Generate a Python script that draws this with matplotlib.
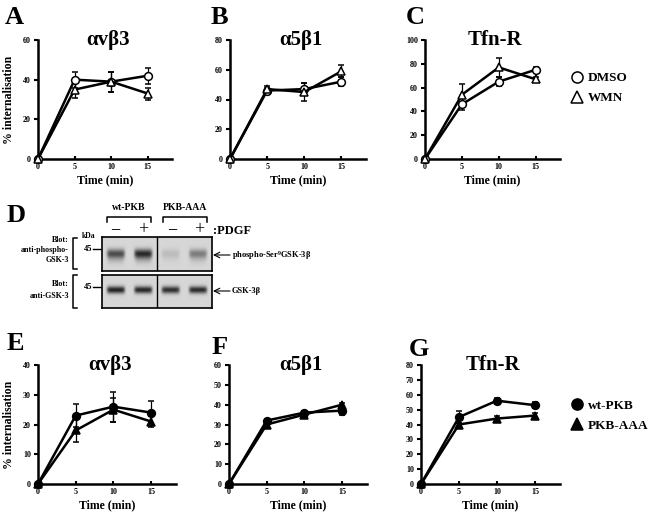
import matplotlib
matplotlib.use('Agg')
import matplotlib.pyplot as plt
from matplotlib.lines import Line2D
import numpy as np

plt.rcParams['font.family'] = ['Liberation Serif', 'DejaVu Serif']
plt.rcParams['font.weight'] = 'bold'
plt.rcParams['mathtext.default'] = 'regular'

# ------------------------------- data -------------------------------- #

times = [0, 5, 10, 15]

# A-C : DMSO / wortmannin
avb3_dmso = [0, 40, 39, 42]
avb3_dmso_err = [0, 4, 5, 4]
avb3_wmn = [0, 35, 39, 33]
avb3_wmn_err = [0, 4, 5, 3]

a5b1_dmso = [0, 46, 47, 52]
a5b1_dmso_err = [0, 2, 4, 3]
a5b1_wmn = [0, 47, 45, 59]
a5b1_wmn_err = [0, 2, 6, 4]

tfnr_dmso = [0, 46, 65, 75]
tfnr_dmso_err = [0, 5, 4, 2]
tfnr_wmn = [0, 54, 77, 67]
tfnr_wmn_err = [0, 9, 8, 2]

# E-G : wt-PKB / PKB-AAA
avb3_wt = [0, 23, 26, 24]
avb3_wt_err = [0, 4, 5, 4]
avb3_aaa = [0, 18, 25, 21]
avb3_aaa_err = [0, 4, 4, 2]

a5b1_wt = [0, 32, 36, 37]
a5b1_wt_err = [0, 1, 1, 2]
a5b1_aaa = [0, 30, 35, 40]
a5b1_aaa_err = [0, 1, 1, 1]

tfnr_wt = [0, 45, 56, 53]
tfnr_wt_err = [0, 4, 2, 2]
tfnr_aaa = [0, 40, 44, 46]
tfnr_aaa_err = [0, 1, 2, 2]

# D : blot band intensities (lanes: wt -, wt +, AAA -, AAA +)
lanes = ['-', '+', '-', '+']
phospho_band = [0.62, 0.78, 0.12, 0.40]
total_band = [0.88, 0.86, 0.82, 0.84]

# ------------------------------ figure ------------------------------- #

W, H = 650, 520
fig = plt.figure(figsize=(6.5, 5.2), dpi=100)


def px(x, y):
    return x / W, 1 - y / H


def rect(x0, y0, x1, y1):
    return [x0 / W, 1 - y1 / H, (x1 - x0) / W, (y1 - y0) / H]


def panel(box, ymax, ystep, title, s1, e1, s2, e2, m1, m2, ylabel=False):
    ax = fig.add_axes(rect(*box))
    for s, e, m in ((s1, e1, m1), (s2, e2, m2)):
        fill = 'white' if m[1] == 'open' else 'black'
        ax.errorbar(times, s, yerr=e, color='black', lw=1.8, elinewidth=0.9,
                    capsize=2.5, capthick=0.9, marker=m[0], ms=5.6,
                    mfc=fill, mec='black', mew=1.1, clip_on=False, zorder=3)
    ax.set_xlim(0, 18.3)
    ax.set_ylim(0, ymax)
    ax.set_xticks(times)
    ax.set_yticks(np.arange(0, ymax + 1, ystep))
    for sp in ('top', 'right'):
        ax.spines[sp].set_visible(False)
    for sp in ('left', 'bottom'):
        ax.spines[sp].set_linewidth(1.8)
    ax.tick_params(axis='x', direction='in', length=2.5, width=1.5,
                   labelsize=5.8, pad=3)
    ax.tick_params(axis='y', direction='out', length=3, width=1.5,
                   labelsize=5.8, pad=2)
    ax.set_xlabel('Time (min)', fontsize=8.5, fontweight='bold', labelpad=2)
    if ylabel:
        ax.set_ylabel('% internalisation', fontsize=8.5, fontweight='bold',
                      labelpad=6)
    ax.text(0.52, 1.0, title, transform=ax.transAxes, ha='center',
            va='center', fontsize=15, fontweight='bold')
    return ax


axA = panel((38, 40, 172, 159), 60, 20, 'αvβ3', avb3_dmso, avb3_dmso_err,
            avb3_wmn, avb3_wmn_err, ('o', 'open'), ('^', 'open'), ylabel=True)
axB = panel((230, 40, 366, 159), 80, 20, 'α5β1', a5b1_dmso, a5b1_dmso_err,
            a5b1_wmn, a5b1_wmn_err, ('o', 'open'), ('^', 'open'))
axC = panel((425, 40, 560, 159), 100, 20, 'Tfn-R', tfnr_dmso, tfnr_dmso_err,
            tfnr_wmn, tfnr_wmn_err, ('o', 'open'), ('^', 'open'))
axE = panel((38, 365, 176, 484), 40, 10, 'αvβ3', avb3_wt, avb3_wt_err,
            avb3_aaa, avb3_aaa_err, ('o', 'fill'), ('^', 'fill'), ylabel=True)
axF = panel((229, 365, 367, 484), 60, 10, 'α5β1', a5b1_wt, a5b1_wt_err,
            a5b1_aaa, a5b1_aaa_err, ('o', 'fill'), ('^', 'fill'))
axG = panel((421, 365, 560, 484), 80, 10, 'Tfn-R', tfnr_wt, tfnr_wt_err,
            tfnr_aaa, tfnr_aaa_err, ('o', 'fill'), ('^', 'fill'))


def legend(ax, labels, fill, anchor):
    hs = [Line2D([], [], ls='none', marker=m, ms=8, mfc=fill, mec='black',
                 mew=1.1) for m in ('o', '^')]
    ax.legend(hs, labels, loc='upper left', bbox_to_anchor=anchor,
              frameon=False, handlelength=0.8, handletextpad=0.4,
              labelspacing=0.6, prop={'size': 9.5, 'weight': 'bold'})


legend(axC, ['DMSO', 'WMN'], 'white', (1.0, 0.83))
legend(axG, ['wt-PKB', 'PKB-AAA'], 'black', (1.0, 0.81))

# panel letters
for letter, (x, y) in zip('ABCDEFG', [(5, 17), (211, 18), (406, 18),
                                      (7, 215), (7, 344), (212, 347),
                                      (409, 350)]):
    fig.text(*px(x, y), letter, fontsize=19, fontweight='bold',
             ha='left', va='center')

# ------------------------------ blot D ------------------------------- #

ov = fig.add_axes([0, 0, 1, 1], zorder=-1)
ov.set_xlim(0, W)
ov.set_ylim(H, 0)
ov.axis('off')


def blot(box, intens, yc, sy, smear):
    ax = fig.add_axes(rect(*box))
    xs = np.linspace(0, 4, 240)
    ys = np.linspace(0, 1, 70)
    X, Y = np.meshgrid(xs, ys)
    img = np.full(X.shape, 0.84)
    for i, a in enumerate(intens):
        xc = i + 0.5
        g = np.exp(-((X - xc) / 0.33) ** 8) * np.exp(-((Y - yc) / sy) ** 2)
        img -= a * 0.8 * g
        if smear:
            img -= a * 0.2 * np.exp(-((X - xc) / 0.3) ** 6) * \
                np.exp(-((Y - yc - 0.15) / 0.15) ** 2)
    ax.imshow(img, cmap='gray', vmin=0, vmax=1, extent=(0, 4, 1, 0),
              aspect='auto', interpolation='bilinear')
    ax.axvline(2, color='black', lw=1.0)
    ax.set_xticks([])
    ax.set_yticks([])
    for sp in ax.spines.values():
        sp.set_linewidth(1.2)
    return ax


blot((102, 237, 212, 271), phospho_band, 0.5, 0.13, True)
blot((102, 275, 212, 308), total_band, 0.45, 0.11, False)

# column headers
for txt, xc, (b0, b1) in (('wt-PKB', 129, (107, 151)),
                          ('PKB-AAA', 185, (163, 207))):
    ov.text(xc, 208, txt, ha='center', va='center', fontsize=7)
    ov.plot([b0, b0, b1, b1], [222, 217, 217, 222], color='black', lw=1.1)
for sign, x in zip(lanes, [115, 143, 172, 199]):
    ov.text(x, 230, '−' if sign == '-' else '+', ha='center', va='center',
            fontsize=13, fontweight='normal')
ov.text(213, 231, ':PDGF', ha='left', va='center', fontsize=9)

# left labels and brackets
ov.text(69, 250, 'Blot:\nanti-phospho-\nGSK-3', ha='right', va='center',
        fontsize=5.8, linespacing=1.35)
ov.text(69, 290, 'Blot:\nanti-GSK-3', ha='right', va='center',
        fontsize=5.8, linespacing=1.6)
for y0, y1 in ((238, 269), (275, 308)):
    ov.plot([77, 73, 73, 77], [y0, y0, y1, y1], color='black', lw=1.1)

ov.text(89, 236, 'kDa', ha='center', va='center', fontsize=5.5)
for y in (249, 287):
    ov.text(92, y, '45', ha='right', va='center', fontsize=6)
    ov.plot([93, 101], [y, y], color='black', lw=1.0)

# right arrows
for y, txt in ((255, 'phospho-Ser$^{9}$GSK-3β'), (291, 'GSK-3β')):
    ov.annotate('', xy=(213, y), xytext=(230, y),
                arrowprops=dict(arrowstyle='->', lw=0.8, color='black',
                                shrinkA=0, shrinkB=0))
    ov.text(232, y, txt, ha='left', va='center', fontsize=6)

fig.savefig('out.png', dpi=100)
